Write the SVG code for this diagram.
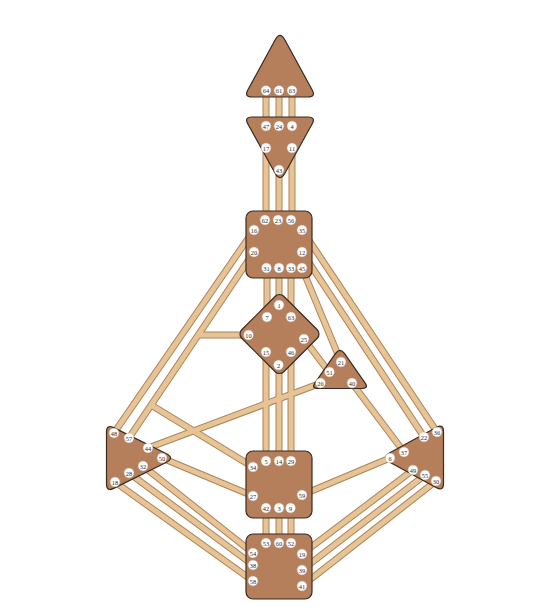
<svg xmlns="http://www.w3.org/2000/svg" xmlns:xlink="http://www.w3.org/1999/xlink" width="557" height="616" viewBox="0 0 557 616">
<style>
.outer{stroke:#a8845f;stroke-width:7;fill:none}
.inner{stroke:#e8c393;stroke-width:5;fill:none}
.c{fill:#b67f5b;stroke:#3a2a20;stroke-width:1.2}
.g{fill:#ffffff;stroke:#d8cfc8;stroke-width:0.4}
.t{font-family:"Liberation Serif","DejaVu Serif",serif;font-size:6.4px;fill:#2a2a2a;text-anchor:middle;dominant-baseline:central}
</style>
<defs>
<g id="chan">
<line x1="266" y1="90" x2="266" y2="126"/>
<line x1="279" y1="90" x2="279" y2="126"/>
<line x1="292" y1="90" x2="292" y2="126"/>
<line x1="266" y1="148" x2="266" y2="220"/>
<line x1="279" y1="170" x2="279" y2="220"/>
<line x1="292" y1="148" x2="292" y2="220"/>
<line x1="267" y1="268" x2="267" y2="317"/>
<line x1="279" y1="268" x2="279" y2="305"/>
<line x1="291" y1="268" x2="291" y2="317"/>
<line x1="266" y1="352" x2="266" y2="461"/>
<line x1="279" y1="365" x2="279" y2="461"/>
<line x1="291" y1="352" x2="291" y2="461"/>
<line x1="266" y1="508" x2="266" y2="543"/>
<line x1="279" y1="508" x2="279" y2="543"/>
<line x1="291" y1="508" x2="291" y2="543"/>
<line x1="254" y1="230" x2="114" y2="433"/>
<line x1="254" y1="252" x2="129" y2="438"/>
<line x1="198" y1="335" x2="248" y2="335"/>
<line x1="151" y1="405" x2="253" y2="467"/>
<line x1="321" y1="383" x2="148" y2="448"/>
<line x1="162" y1="458" x2="253" y2="496"/>
<line x1="253" y1="553" x2="143" y2="466"/>
<line x1="253" y1="565" x2="129" y2="473"/>
<line x1="253" y1="581" x2="115" y2="482"/>
<line x1="302" y1="230" x2="437" y2="432"/>
<line x1="302" y1="252" x2="424" y2="437"/>
<line x1="302" y1="268" x2="341" y2="362"/>
<line x1="304" y1="339" x2="329" y2="372"/>
<line x1="352" y1="383" x2="404" y2="452"/>
<line x1="302" y1="495" x2="390" y2="458"/>
<line x1="302" y1="554" x2="413" y2="470"/>
<line x1="302" y1="570" x2="425" y2="475"/>
<line x1="302" y1="586" x2="436" y2="481"/>
</g>
</defs>
<g id="connectors">
<use xlink:href="#chan" href="#chan" class="outer"/>
<use xlink:href="#chan" href="#chan" class="inner"/>
</g>
<g id="head">
<path class="c" d="M 275.2,39.8 Q 280,31 284.8,39.8 L 312.2,90 Q 316,97 308,97 L 252,97 Q 244,97 247.8,90 Z"/>
<circle class="g" cx="266" cy="90.5" r="4.8"/><text class="t" x="266" y="90.5">64</text>
<circle class="g" cx="279" cy="90.5" r="4.8"/><text class="t" x="279" y="90.5">61</text>
<circle class="g" cx="292" cy="90.5" r="4.8"/><text class="t" x="292" y="90.5">63</text>
</g>
<g id="ajna">
<path class="c" d="M 252,117 L 308,117 Q 316,117 312.1,124 L 284.9,173.3 Q 280,182 275.1,173.3 L 247.9,124 Q 244,117 252,117 Z"/>
<circle class="g" cx="266" cy="126" r="4.8"/><text class="t" x="266" y="126">47</text>
<circle class="g" cx="279" cy="126" r="4.8"/><text class="t" x="279" y="126">24</text>
<circle class="g" cx="292" cy="126" r="4.8"/><text class="t" x="292" y="126">4</text>
<circle class="g" cx="266" cy="148" r="4.8"/><text class="t" x="266" y="148">17</text>
<circle class="g" cx="292" cy="148" r="4.8"/><text class="t" x="292" y="148">11</text>
<circle class="g" cx="279" cy="170" r="4.8"/><text class="t" x="279" y="170">43</text>
</g>
<g id="throat">
<rect class="c" x="246" y="211" width="66" height="67" rx="7"/>
<circle class="g" cx="265" cy="220" r="4.8"/><text class="t" x="265" y="220">62</text>
<circle class="g" cx="278" cy="220" r="4.8"/><text class="t" x="278" y="220">23</text>
<circle class="g" cx="291" cy="220" r="4.8"/><text class="t" x="291" y="220">56</text>
<circle class="g" cx="254" cy="230" r="4.8"/><text class="t" x="254" y="230">16</text>
<circle class="g" cx="302" cy="230" r="4.8"/><text class="t" x="302" y="230">35</text>
<circle class="g" cx="254" cy="252" r="4.8"/><text class="t" x="254" y="252">20</text>
<circle class="g" cx="302" cy="252" r="4.8"/><text class="t" x="302" y="252">12</text>
<circle class="g" cx="266.5" cy="268" r="4.8"/><text class="t" x="266.5" y="268">31</text>
<circle class="g" cx="279" cy="268" r="4.8"/><text class="t" x="279" y="268">8</text>
<circle class="g" cx="291" cy="268" r="4.8"/><text class="t" x="291" y="268">33</text>
<circle class="g" cx="302" cy="268" r="4.8"/><text class="t" x="302" y="268">45</text>
</g>
<g id="g-center">
<rect class="c" x="-29.7" y="-29.7" width="59.4" height="59.4" rx="6" transform="translate(279.5,334) rotate(45)"/>
<circle class="g" cx="279" cy="305" r="4.8"/><text class="t" x="279" y="305">1</text>
<circle class="g" cx="267" cy="317" r="4.8"/><text class="t" x="267" y="317">7</text>
<circle class="g" cx="291" cy="317" r="4.8"/><text class="t" x="291" y="317">63</text>
<circle class="g" cx="248.5" cy="335" r="4.8"/><text class="t" x="248.5" y="335">10</text>
<circle class="g" cx="304" cy="339" r="4.8"/><text class="t" x="304" y="339">25</text>
<circle class="g" cx="266" cy="352" r="4.8"/><text class="t" x="266" y="352">15</text>
<circle class="g" cx="291" cy="352" r="4.8"/><text class="t" x="291" y="352">46</text>
<circle class="g" cx="278.5" cy="365" r="4.8"/><text class="t" x="278.5" y="365">2</text>
</g>
<g id="ego">
<path class="c" d="M 335.4,353.6 Q 340,347 344.6,353.6 L 365,382.8 Q 369,388.5 362,388.5 L 318,388.5 Q 311,388.5 315,382.8 Z"/>
<circle class="g" cx="341" cy="362" r="4.8"/><text class="t" x="341" y="362">21</text>
<circle class="g" cx="329.5" cy="372" r="4.8"/><text class="t" x="329.5" y="372">51</text>
<circle class="g" cx="320.5" cy="383" r="4.8"/><text class="t" x="320.5" y="383">26</text>
<circle class="g" cx="352" cy="383" r="4.8"/><text class="t" x="352" y="383">40</text>
</g>
<g id="spleen">
<path class="c" d="M 113.7,427.6 L 166.05,453.56 Q 175,458 166.05,462.44 L 113.7,488.4 Q 106.5,492 106.5,484 L 106.5,432 Q 106.5,424 113.7,427.6 Z"/>
<circle class="g" cx="114" cy="433" r="4.8"/><text class="t" x="114" y="433">48</text>
<circle class="g" cx="129" cy="438" r="4.8"/><text class="t" x="129" y="438">57</text>
<circle class="g" cx="148" cy="448" r="4.8"/><text class="t" x="148" y="448">44</text>
<circle class="g" cx="162" cy="458" r="4.8"/><text class="t" x="162" y="458">50</text>
<circle class="g" cx="143" cy="466" r="4.8"/><text class="t" x="143" y="466">32</text>
<circle class="g" cx="129" cy="473" r="4.8"/><text class="t" x="129" y="473">28</text>
<circle class="g" cx="115" cy="482" r="4.8"/><text class="t" x="115" y="482">18</text>
</g>
<g id="solar-plexus">
<path class="c" d="M 443.5,431.5 L 443.5,483.5 Q 443.5,491.5 436.5,487.7 L 389.8,462.3 Q 381,457.5 389.8,452.7 L 436.5,427.3 Q 443.5,423.5 443.5,431.5 Z"/>
<circle class="g" cx="437" cy="432" r="4.8"/><text class="t" x="437" y="432">36</text>
<circle class="g" cx="424" cy="437" r="4.8"/><text class="t" x="424" y="437">22</text>
<circle class="g" cx="404" cy="452" r="4.8"/><text class="t" x="404" y="452">37</text>
<circle class="g" cx="390" cy="458" r="4.8"/><text class="t" x="390" y="458">6</text>
<circle class="g" cx="413" cy="470" r="4.8"/><text class="t" x="413" y="470">49</text>
<circle class="g" cx="425" cy="475" r="4.8"/><text class="t" x="425" y="475">55</text>
<circle class="g" cx="436" cy="481" r="4.8"/><text class="t" x="436" y="481">30</text>
</g>
<g id="sacral">
<rect class="c" x="246" y="451" width="66" height="67" rx="7"/>
<circle class="g" cx="266" cy="461" r="4.8"/><text class="t" x="266" y="461">5</text>
<circle class="g" cx="279" cy="461" r="4.8"/><text class="t" x="279" y="461">14</text>
<circle class="g" cx="291" cy="461" r="4.8"/><text class="t" x="291" y="461">29</text>
<circle class="g" cx="253" cy="467" r="4.8"/><text class="t" x="253" y="467">34</text>
<circle class="g" cx="253" cy="496" r="4.8"/><text class="t" x="253" y="496">27</text>
<circle class="g" cx="302" cy="495" r="4.8"/><text class="t" x="302" y="495">59</text>
<circle class="g" cx="266" cy="508" r="4.8"/><text class="t" x="266" y="508">42</text>
<circle class="g" cx="279" cy="508" r="4.8"/><text class="t" x="279" y="508">3</text>
<circle class="g" cx="290.5" cy="508" r="4.8"/><text class="t" x="290.5" y="508">9</text>
</g>
<g id="root">
<rect class="c" x="246" y="534" width="66" height="65" rx="7"/>
<circle class="g" cx="266" cy="543" r="4.8"/><text class="t" x="266" y="543">53</text>
<circle class="g" cx="279" cy="543" r="4.8"/><text class="t" x="279" y="543">60</text>
<circle class="g" cx="291" cy="543" r="4.8"/><text class="t" x="291" y="543">52</text>
<circle class="g" cx="253" cy="553" r="4.8"/><text class="t" x="253" y="553">54</text>
<circle class="g" cx="302" cy="554" r="4.8"/><text class="t" x="302" y="554">19</text>
<circle class="g" cx="253" cy="565" r="4.8"/><text class="t" x="253" y="565">38</text>
<circle class="g" cx="302" cy="570" r="4.8"/><text class="t" x="302" y="570">39</text>
<circle class="g" cx="253" cy="581" r="4.8"/><text class="t" x="253" y="581">58</text>
<circle class="g" cx="302" cy="586" r="4.8"/><text class="t" x="302" y="586">41</text>
</g>
</svg>
